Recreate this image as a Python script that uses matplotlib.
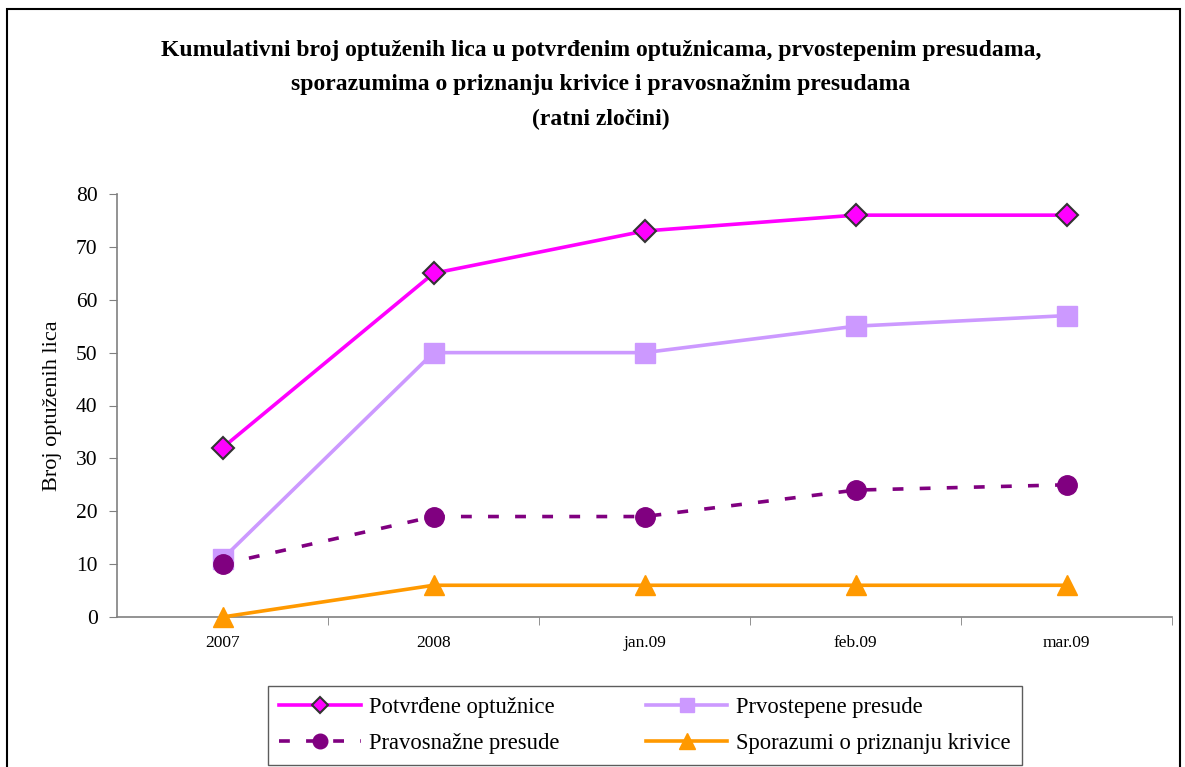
import matplotlib.pyplot as plt
from matplotlib.patches import Rectangle

categories = ["2007", "2008", "jan.09", "feb.09", "mar.09"]
potvrdene = [32, 65, 73, 76, 76]
prvostepene = [11, 50, 50, 55, 57]
pravosnazne = [10, 19, 19, 24, 25]
sporazumi = [0, 6, 6, 6, 6]

plt.rcParams['font.family'] = ['Liberation Serif', 'DejaVu Serif']

fig = plt.figure(figsize=(11.85, 7.67), dpi=100)
fig.patches.append(Rectangle((7 / 1185, -0.01), 1173 / 1185, 1 - 9 / 767 + 0.01,
                             transform=fig.transFigure, fill=False,
                             edgecolor='black', linewidth=1.5))

ax = fig.add_axes([117 / 1185, 1 - 617 / 767, 1055 / 1185, 423 / 767])
x = list(range(len(categories)))

l1, = ax.plot(x, potvrdene, color='#FF00FF', lw=2.6, marker='D', ms=11,
              mfc='#FF00FF', mec='#333333', mew=1.5, label='Potvrđene optužnice', zorder=4)
l2, = ax.plot(x, prvostepene, color='#CC99FF', lw=2.6, marker='s', ms=14,
              mfc='#CC99FF', mec='#CC99FF', label='Prvostepene presude', zorder=3)
l3, = ax.plot(x, pravosnazne, color='#800080', lw=2.6, ls=(0, (3, 4.5)), marker='o', ms=14,
              mfc='#800080', mec='#800080', label='Pravosnažne presude', zorder=4)
l4, = ax.plot(x, sporazumi, color='#FF9900', lw=2.6, marker='^', ms=15,
              mfc='#FF9900', mec='#FF9900', label='Sporazumi o priznanju krivice', zorder=5)

ax.set_xlim(-0.5, len(categories) - 0.5)
ax.set_ylim(0, 80)
ax.set_yticks(range(0, 81, 10))
ax.tick_params(axis='y', labelsize=15.5, length=6, color='#808080', pad=8)
ax.set_xticks(x)
ax.set_xticklabels(categories)
ax.tick_params(axis='x', which='major', length=0, labelsize=12.5, pad=13)
ax.set_xticks([i + 0.5 for i in x], minor=True)
ax.tick_params(axis='x', which='minor', length=6, color='#808080')
for s in ['top', 'right']:
    ax.spines[s].set_visible(False)
for s in ['left', 'bottom']:
    ax.spines[s].set_color('#808080')
    ax.spines[s].set_linewidth(1.2)
for ln in ax.lines:
    ln.set_clip_on(False)

ax.set_ylabel('Broj optuženih lica', fontsize=16, labelpad=10)

fig.text(0.507, 1 - 85 / 767,
         'Kumulativni broj optuženih lica u potvrđenim optužnicama, prvostepenim presudama,\n'
         'sporazumima o priznanju krivice i pravosnažnim presudama\n(ratni zločini)',
         ha='center', va='center', fontsize=17, fontweight='bold', linespacing=1.82)

# legend fills column-wise, so order handles to get the reference rows
leg = fig.legend([l1, l3, l2, l4], [l.get_label() for l in [l1, l3, l2, l4]],
                 loc='lower left', bbox_to_anchor=(268 / 1185, 2 / 767),
                 ncol=2, fontsize=16.3, frameon=True, fancybox=False,
                 edgecolor='#333333', handlelength=3.6, handletextpad=0.38,
                 borderaxespad=0, borderpad=0.5, columnspacing=3.8, labelspacing=0.65,
                 markerscale=0.75)
leg.get_frame().set_linewidth(1)

fig.savefig('out.png', dpi=100)
